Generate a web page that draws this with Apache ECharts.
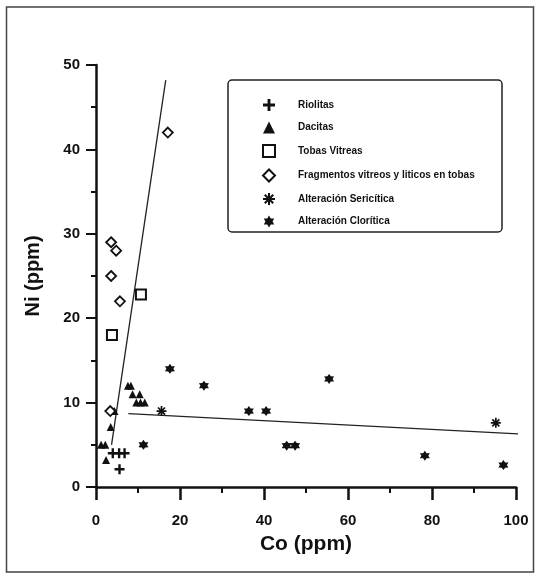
<!DOCTYPE html>
<html>
<head>
<meta charset="utf-8">
<script src="https://cdn.jsdelivr.net/npm/echarts@6/dist/echarts.min.js"></script>
<style>
  html, body { margin: 0; padding: 0; background: #fff; }
  #chart { width: 536px; height: 576px; }
</style>
</head>
<body>
<div id="chart"></div>
<script>
// Co vs Ni (ppm) by rock type / alteration
const seriesNames = [
  'Riolitas',
  'Dacitas',
  'Tobas Vitreas',
  'Fragmentos vitreos y liticos en tobas',
  'Alteración Sericítica',
  'Alteración Clorítica'
];

// [Co, Ni] pairs
const riolitas = [[4, 4], [5.5, 4], [6.8, 4], [5.6, 2.1]];
const dacitas = [[1.2, 5], [2.2, 5], [2.4, 3.2], [3.5, 7.1], [4.4, 9],
  [7.6, 12], [8.3, 12], [8.7, 11], [10.4, 11], [9.6, 10], [10.6, 10], [11.6, 10]];
const tobasVitreas = [[3.8, 18], [10.7, 22.8]];
const fragmentos = [[3.6, 29], [4.8, 28], [3.6, 25], [5.7, 22], [3.4, 9], [17.1, 42]];
const sericitica = [[15.6, 9], [95.2, 7.6]];
const cloritica = [[11.3, 5], [17.6, 14], [25.7, 12], [36.4, 9], [40.5, 9],
  [45.4, 4.9], [47.4, 4.9], [55.5, 12.8], [78.3, 3.7], [97, 2.6]];

// fitted trend lines (end points)
const trendSteep = [[3.7, 5], [16.6, 48.2]];
const trendFlat = [[7.7, 8.7], [104.5, 6.2]];

// axis ranges and tick spacing
const xRange = [0, 100], xStep = 20;
const yRange = [0, 50], yStep = 10;

// ---- symbol shapes ----
function fmt(n) { return (Math.round(n * 100) / 100).toString(); }

// n bars crossing at the centre, forming an asterisk
function asteriskPath(arms, half) {
  let d = '';
  const r = 10;
  for (let i = 0; i < arms; i++) {
    const a = Math.PI * i / arms + Math.PI / 2;
    const ca = Math.cos(a), sa = Math.sin(a);
    const px = -sa * half, py = ca * half;
    const pts = [
      [10 + ca * r + px, 10 + sa * r + py],
      [10 + ca * r - px, 10 + sa * r - py],
      [10 - ca * r - px, 10 - sa * r - py],
      [10 - ca * r + px, 10 - sa * r + py]
    ];
    d += 'M' + pts.map(p => fmt(p[0]) + ',' + fmt(p[1])).join('L') + 'Z';
  }
  return 'path://' + d;
}

// filled star with k points
function starPath(k, outer, inner) {
  const pts = [];
  for (let i = 0; i < 2 * k; i++) {
    const a = -Math.PI / 2 + Math.PI * i / k;
    const r = i % 2 === 0 ? outer : inner;
    pts.push([10 + r * Math.cos(a), 10 + r * Math.sin(a)]);
  }
  return 'path://M' + pts.map(p => fmt(p[0]) + ',' + fmt(p[1])).join('L') + 'Z';
}

const plusSymbol = 'path://M3.8,0H6.2V3.8H10V6.2H6.2V10H3.8V6.2H0V3.8H3.8Z';
const asteriskSymbol = asteriskPath(4, 1.7);
const starSymbol = starPath(6, 10, 6);

const FONT = '"Liberation Sans", Arial, Helvetica, sans-serif';
const INK = '#111';

const chart = echarts.init(document.getElementById('chart'), null, { renderer: 'canvas' });

function scatter(name, data, symbol, size, style) {
  return {
    name: name,
    type: 'scatter',
    data: data,
    symbol: symbol,
    symbolSize: size,
    itemStyle: Object.assign({ color: INK, opacity: 1 }, style || {}),
    emphasis: { disabled: true },
    z: 5
  };
}

function trend(data) {
  return {
    type: 'line',
    data: data,
    showSymbol: false,
    symbol: 'none',
    clip: false,
    lineStyle: { color: '#222', width: 1.3 },
    emphasis: { disabled: true },
    silent: true,
    z: 3
  };
}

const option = {
  animation: false,
  backgroundColor: '#fff',
  textStyle: { fontFamily: FONT },
  grid: { left: 96, right: 20, top: 65, bottom: 89, containLabel: false },
  xAxis: {
    type: 'value',
    min: xRange[0], max: xRange[1], interval: xStep,
    name: 'Co (ppm)',
    nameLocation: 'middle',
    nameGap: 47,
    nameTextStyle: { color: INK, fontSize: 21, fontWeight: 'bold', fontFamily: FONT },
    axisLine: { show: true, onZero: false, lineStyle: { color: INK, width: 2.5 } },
    axisTick: { show: true, inside: false, length: 13, lineStyle: { color: INK, width: 2.5 } },
    minorTick: { show: true, splitNumber: 2, length: 6, lineStyle: { color: INK, width: 2 } },
    axisLabel: { color: INK, fontSize: 15, fontWeight: 'bold', margin: 26, fontFamily: FONT },
    splitLine: { show: false },
    minorSplitLine: { show: false }
  },
  yAxis: {
    type: 'value',
    min: yRange[0], max: yRange[1], interval: yStep,
    name: 'Ni (ppm)',
    nameLocation: 'middle',
    nameGap: 53,
    nameRotate: 90,
    nameTextStyle: { color: INK, fontSize: 20, fontWeight: 'bold', fontFamily: FONT },
    axisLine: { show: true, onZero: false, lineStyle: { color: INK, width: 2.5 } },
    axisTick: { show: true, inside: false, length: 10, lineStyle: { color: INK, width: 2 } },
    minorTick: { show: true, splitNumber: 2, length: 5, lineStyle: { color: INK, width: 2 } },
    axisLabel: { color: INK, fontSize: 15, fontWeight: 'bold', margin: 16, fontFamily: FONT },
    splitLine: { show: false },
    minorSplitLine: { show: false }
  },
  legend: {
    show: true,
    data: seriesNames,
    orient: 'vertical',
    left: 257,
    top: 94,
    itemWidth: 12,
    itemHeight: 12,
    itemGap: 10.5,
    selectedMode: false,
    textStyle: {
      color: INK, fontSize: 10, fontWeight: 'bold', fontFamily: FONT,
      padding: [0, 0, 0, 18]
    }
  },
  graphic: [
    {
      // outer frame of the figure
      type: 'rect',
      silent: true,
      z: 0,
      shape: { x: 6.5, y: 7, width: 527, height: 565 },
      style: { fill: 'none', stroke: '#444', lineWidth: 1.5 }
    },
    {
      // legend box
      type: 'rect',
      silent: true,
      z: 1,
      shape: { x: 228, y: 80, width: 274, height: 152, r: 4 },
      style: { fill: '#fff', stroke: '#222', lineWidth: 1.5 }
    }
  ],
  series: [
    scatter(seriesNames[0], riolitas, plusSymbol, 10),
    scatter(seriesNames[1], dacitas, 'triangle', 8),
    scatter(seriesNames[2], tobasVitreas, 'rect', 10, { color: '#fff', borderColor: INK, borderWidth: 2 }),
    scatter(seriesNames[3], fragmentos, 'diamond', 10, { color: '#fff', borderColor: INK, borderWidth: 1.8 }),
    scatter(seriesNames[4], sericitica, asteriskSymbol, 10),
    scatter(seriesNames[5], cloritica, starSymbol, 10),
    trend(trendSteep),
    trend(trendFlat)
  ]
};

chart.setOption(option);
</script>
</body>
</html>
